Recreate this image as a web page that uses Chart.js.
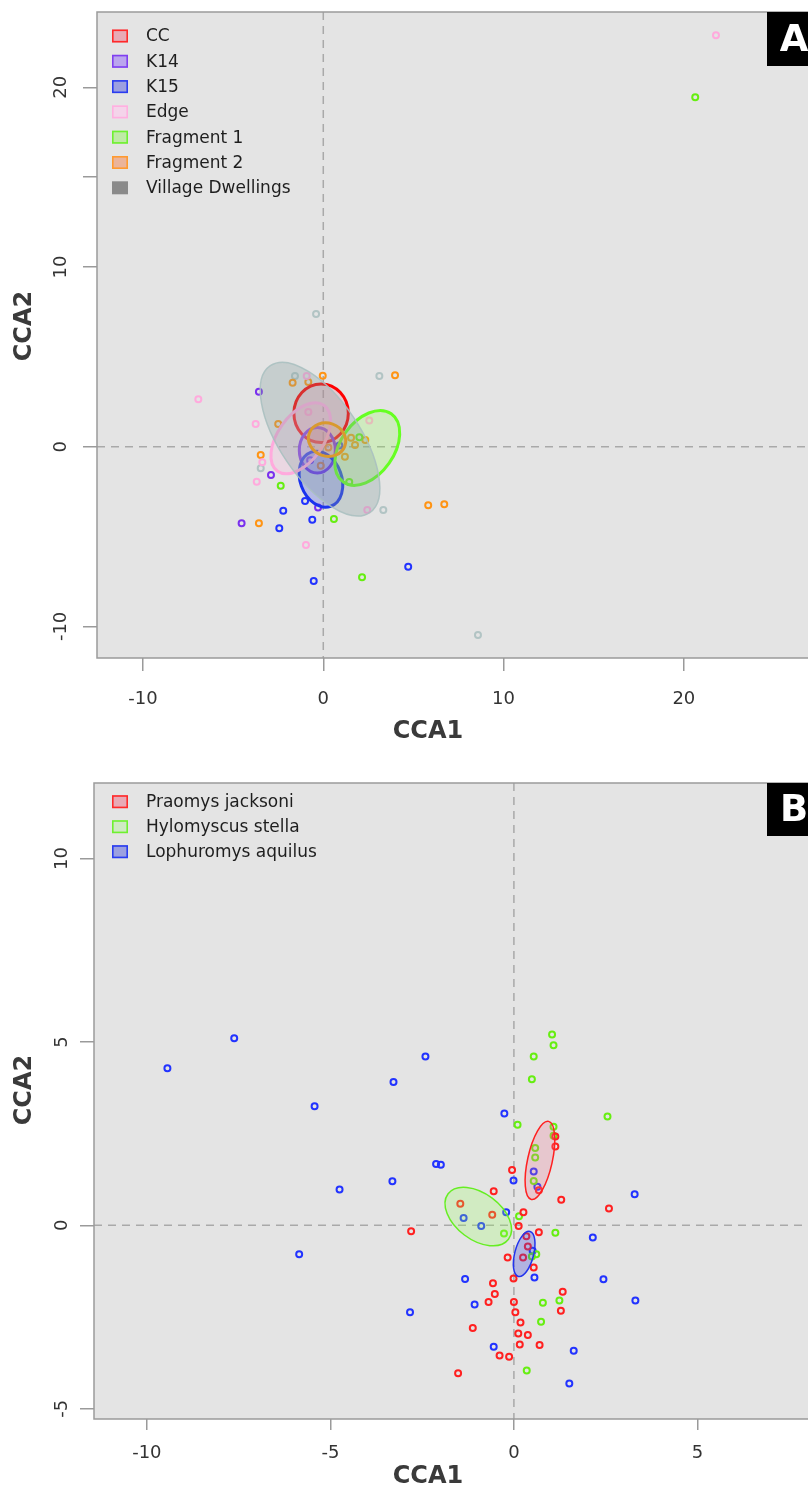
<!DOCTYPE html>
<html><head><meta charset="utf-8">
<script src="https://cdn.jsdelivr.net/npm/chart.js@4"></script>
<style>
html,body{margin:0;padding:0;background:#fff;overflow:hidden;width:808px;height:1490px;position:relative;}
#wa{position:absolute;left:0;top:0;width:830px;height:760px;}
#wb{position:absolute;left:0;top:760px;width:830px;height:730px;}
canvas{display:block;}
</style></head><body>
<div id="wa"><canvas id="ca" width="830" height="760"></canvas></div>
<div id="wb"><canvas id="cb" width="830" height="730"></canvas></div>
<script>
// ---------- Panel A data ----------
const aLabels = ["CC","K14","K15","Edge","Fragment 1","Fragment 2","Village Dwellings"];
const aCCX = [];
const aCCY = [];
const aK14X = [-3.57,-2.90,-0.29,-4.53,-0.73];
const aK14Y = [3.06,-1.57,-3.39,-4.26,-0.75];
const aK15X = [-1.01,-2.22,-0.61,-2.44,4.71,-0.53,0.89];
const aK15Y = [-3.02,-3.56,-4.06,-4.54,-6.68,-7.47,0.06];
const aEdgeX = [-6.93,-0.92,-3.75,2.55,-3.69,-3.38,2.44,-0.96,21.78,-0.83];
const aEdgeY = [2.64,3.93,1.26,1.45,-1.95,-0.87,-3.52,-5.47,22.89,1.93];
const aFrag1X = [-2.36,1.44,0.59,2.00,2.15,20.63];
const aFrag1Y = [-2.17,-1.96,-4.02,0.52,-7.27,19.44];
const aFrag2X = [-1.70,-0.83,-0.03,3.98,-2.50,-3.47,1.54,1.76,2.33,0.28,1.20,-0.14,-3.57,5.82,6.71];
const aFrag2Y = [3.56,3.60,3.95,3.97,1.26,-0.46,0.50,0.09,0.37,-0.05,-0.56,-1.06,-4.26,-3.26,-3.21];
const aVillX = [-0.40,-1.57,3.11,-3.47,3.33,8.58];
const aVillY = [7.38,3.93,3.93,-1.20,-3.52,-10.48];
// ellipses: centre x, centre y, semi-axis a, semi-axis b, angle (deg)
const aEllCX = [-0.12,-0.33,-0.13,-1.25,2.44,0.21,-0.18];
const aEllCY = [1.86,-0.20,-1.81,0.47,-0.07,0.39,0.42];
const aEllA  = [1.51,1.00,1.60,2.24,2.32,1.05,4.93];
const aEllB  = [1.63,1.27,1.15,1.27,1.48,0.92,2.22];
const aEllAng= [0,0,-70,55,55,-20,-56];
const aXTicks = [-10,0,10,20];
const aXTickLabels = ["-10","0","10","20"];
const aYTicks = [-10,0,10,15,20];
const aYTickLabels = ["-10","0","10","","20"];

// ---------- Panel B data ----------
const bLabels = ["Praomys jacksoni","Hylomyscus stella","Lophuromys aquilus"];
const bPraX = [1.13,1.13,-0.05,-0.55,0.68,1.29,2.59,-1.46,-0.59,0.26,0.13,0.68,-2.80,0.34,0.38,-0.17,0.25,0.54,-0.01,-0.57,-0.52,1.33,-0.69,0.00,0.04,1.28,0.18,-1.12,0.12,0.38,0.16,0.70,-0.39,-0.13,-1.52];
const bPraY = [2.42,2.15,1.51,0.93,0.96,0.70,0.46,0.59,0.29,0.36,-0.02,-0.19,-0.16,-0.30,-0.58,-0.88,-0.88,-1.15,-1.45,-1.58,-1.87,-1.81,-2.09,-2.09,-2.37,-2.33,-2.65,-2.80,-2.95,-2.99,-3.25,-3.26,-3.55,-3.58,-4.03];
const bHylX = [1.04,1.08,0.54,0.49,2.55,0.10,1.08,1.08,0.58,0.58,0.54,0.14,-0.27,1.13,0.61,0.49,0.79,1.24,0.74,0.35];
const bHylY = [5.20,4.91,4.60,3.98,2.97,2.74,2.69,2.44,2.11,1.85,1.21,0.25,-0.22,-0.20,-0.79,-0.85,-2.11,-2.05,-2.63,-3.96];
const bLopX = [-9.44,-7.62,-2.41,-3.28,-5.43,-0.26,-2.12,-1.99,-3.31,-4.75,0.54,-0.01,0.64,3.29,-0.21,-1.37,-0.89,2.15,-5.85,0.51,0.56,-1.33,2.44,-1.07,-2.83,3.31,-0.55,1.63,1.51];
const bLopY = [4.28,5.10,4.60,3.91,3.25,3.05,1.67,1.65,1.20,0.98,1.47,1.22,1.05,0.85,0.36,0.20,-0.02,-0.33,-0.79,-0.69,-1.42,-1.46,-1.47,-2.16,-2.37,-2.05,-3.31,-3.42,-4.31];
const bEllCX = [0.71,-0.97,0.28];
const bEllCY = [1.77,0.24,-0.78];
const bEllA  = [1.09,1.03,0.634];
const bEllB  = [0.336,0.63,0.257];
const bEllAng= [77.5,-37,75.5];
const bXTicks = [-10,-5,0,5];
const bXTickLabels = ["-10","-5","0","5"];
const bYTicks = [-5,0,5,10];
const bYTickLabels = ["-5","0","5","10"];

const FONT = "'DejaVu Sans', Verdana, sans-serif";

function makePanel(canvasId, cfg){
  const datasets = cfg.series.map(s => ({
    label: s.label,
    data: s.x.map((v,i)=>({x:v, y:s.y[i]})),
    pointStyle:'circle', pointRadius:3, pointHoverRadius:3,
    pointBorderWidth:2, pointHoverBorderWidth:2,
    borderColor:s.color, backgroundColor:'rgba(0,0,0,0)', showLine:false
  }));
  const plugin = {
    id:'panel_'+canvasId,
    beforeDatasetsDraw(chart){
      const {ctx, chartArea:a, scales:{x,y}} = chart;
      ctx.save();
      ctx.fillStyle = '#e4e4e4';
      ctx.fillRect(a.left, a.top, a.right-a.left, a.bottom-a.top);
      ctx.strokeStyle = '#a9a9a9'; ctx.lineWidth = 1.5; ctx.setLineDash([8,6]);
      const x0 = x.getPixelForValue(0), y0 = y.getPixelForValue(0);
      ctx.beginPath();
      ctx.moveTo(x0, a.top); ctx.lineTo(x0, a.bottom);
      ctx.moveTo(a.left, y0); ctx.lineTo(a.right, y0);
      ctx.stroke();
      ctx.restore();
    },
    afterDatasetsDraw(chart){
      const {ctx, chartArea:a, scales:{x,y}} = chart;
      // ellipses
      cfg.ell.cx.forEach((cxv,i)=>{
        const cx = x.getPixelForValue(cxv), cy = y.getPixelForValue(cfg.ell.cy[i]);
        const sx = x.getPixelForValue(cxv+1)-cx, sy = y.getPixelForValue(cfg.ell.cy[i]+1)-cy;
        ctx.save();
        ctx.beginPath();
        ctx.translate(cx, cy); ctx.scale(sx, sy); ctx.rotate(cfg.ell.ang[i]*Math.PI/180);
        ctx.ellipse(0,0,cfg.ell.a[i],cfg.ell.b[i],0,0,Math.PI*2);
        ctx.restore();
        ctx.save();
        ctx.fillStyle = cfg.ellStyle[i].fill; ctx.fill();
        ctx.strokeStyle = cfg.ellStyle[i].stroke; ctx.lineWidth = cfg.ellStyle[i].lw; ctx.stroke();
        ctx.restore();
      });
      ctx.save();
      // frame
      ctx.strokeStyle = '#9a9a9a'; ctx.lineWidth = 1.5;
      ctx.strokeRect(a.left, a.top, a.right-a.left, a.bottom-a.top);
      // legend
      ctx.font = '17px '+FONT; ctx.textAlign='left'; ctx.textBaseline='middle';
      cfg.series.forEach((s,i)=>{
        const yy = a.top + cfg.legendTop + i*cfg.legendStep;
        ctx.fillStyle = s.legendFill; ctx.fillRect(112, yy-6.5, 16, 13);
        if (s.legendStroke){ ctx.strokeStyle = s.legendStroke; ctx.lineWidth = 1.6; ctx.strokeRect(112.8, yy-5.7, 14.4, 11.4); }
        ctx.fillStyle = '#1e1e1e'; ctx.fillText(s.label, 146, yy+1);
      });
      // corner label
      ctx.fillStyle = '#000';
      ctx.fillRect(767, a.top, a.right-767, cfg.cornerH);
      ctx.fillStyle = '#fff'; ctx.font = 'bold 37px '+FONT; ctx.textAlign='center';
      ctx.fillText(cfg.corner, 794, a.top + cfg.cornerH/2 + 2);
      // y tick labels (rotated)
      ctx.font = '18px '+FONT; ctx.fillStyle = '#333';
      cfg.yTicks.forEach((v,i)=>{
        const lab = cfg.yTickLabels[i]; if(!lab) return;
        const py = y.getPixelForValue(v);
        ctx.save(); ctx.translate(cfg.yLabelX, py); ctx.rotate(-Math.PI/2); ctx.fillText(lab,0,0); ctx.restore();
      });
      // axis titles
      ctx.font = 'bold 24px '+FONT; ctx.fillStyle = '#3a3a3a';
      ctx.fillText('CCA1', 428, cfg.xTitleY);
      ctx.save(); ctx.translate(25, cfg.yTitleY); ctx.rotate(-Math.PI/2); ctx.fillText('CCA2',0,0); ctx.restore();
      ctx.restore();
    }
  };
  return new Chart(document.getElementById(canvasId), {
    type:'scatter',
    data:{datasets},
    options:{
      responsive:false, animation:false, events:[],
      layout:{padding:{left:0, top:cfg.padTop, right:10, bottom:0}},
      plugins:{legend:{display:false}, tooltip:{enabled:false}},
      scales:{
        x:{type:'linear', min:cfg.xMin, max:cfg.xMax,
          afterBuildTicks:s=>{ s.ticks = cfg.xTicks.map(v=>({value:v})); },
          afterFit:s=>{ s.height = cfg.xAxisH; },
          grid:{display:true, drawOnChartArea:false, drawTicks:true, tickLength:cfg.tickLen, color:'#9a9a9a', lineWidth:1.5},
          border:{display:false},
          ticks:{font:{family:FONT, size:18}, color:'#333', padding:cfg.xPad, maxRotation:0, minRotation:0, autoSkip:false,
            callback:(v,i)=>cfg.xTickLabels[i]}
        },
        y:{type:'linear', min:cfg.yMin, max:cfg.yMax,
          afterBuildTicks:s=>{ s.ticks = cfg.yTicks.map(v=>({value:v})); },
          afterFit:s=>{ s.width = cfg.yAxisW; },
          grid:{display:true, drawOnChartArea:false, drawTicks:true, tickLength:14, color:'#9a9a9a', lineWidth:1.5},
          border:{display:false},
          ticks:{display:false}
        }
      }
    },
    plugins:[plugin]
  });
}

makePanel('ca', {
  series:[
    {label:aLabels[0], x:aCCX, y:aCCY, color:'#ff1a1a', legendFill:'#e8aab6', legendStroke:'#ff2a2a'},
    {label:aLabels[1], x:aK14X, y:aK14Y, color:'#7a30ee', legendFill:'#bba6ee', legendStroke:'#8040f0'},
    {label:aLabels[2], x:aK15X, y:aK15Y, color:'#2233ff', legendFill:'#9ca0e0', legendStroke:'#2a3cf0'},
    {label:aLabels[3], x:aEdgeX, y:aEdgeY, color:'#ffaadd', legendFill:'#f4d4ea', legendStroke:'#ffb0e0'},
    {label:aLabels[4], x:aFrag1X, y:aFrag1Y, color:'#66ee11', legendFill:'#bfeaa6', legendStroke:'#6ef030'},
    {label:aLabels[5], x:aFrag2X, y:aFrag2Y, color:'#ff9414', legendFill:'#ebb49a', legendStroke:'#ff9a30'},
    {label:aLabels[6], x:aVillX, y:aVillY, color:'#b2c4c4', legendFill:'#8a8a8a', legendStroke:null}
  ],
  ell:{cx:aEllCX, cy:aEllCY, a:aEllA, b:aEllB, ang:aEllAng},
  ellStyle:[
    {fill:'rgba(240,110,140,0.25)', stroke:'#ff0000', lw:3},
    {fill:'rgba(140,90,240,0.22)', stroke:'#7a30ee', lw:3},
    {fill:'rgba(40,60,230,0.25)', stroke:'#1a33ee', lw:3},
    {fill:'rgba(255,170,220,0.22)', stroke:'#ffaadd', lw:3},
    {fill:'rgba(130,255,60,0.22)', stroke:'#66ff22', lw:3},
    {fill:'rgba(255,160,60,0.22)', stroke:'#ff9900', lw:3},
    {fill:'rgba(130,155,155,0.30)', stroke:'rgba(170,192,192,0.9)', lw:1.5}
  ],
  xMin:-12.55, xMax:27.55, yMin:-11.76, yMax:24.19,
  xTicks:aXTicks, xTickLabels:aXTickLabels, yTicks:aYTicks, yTickLabels:aYTickLabels,
  padTop:12, xAxisH:102, yAxisW:97, tickLen:13, xPad:18,
  legendTop:24, legendStep:25.3, corner:'A', cornerH:54,
  yLabelX:61, xTitleY:732, yTitleY:326
});

makePanel('cb', {
  series:[
    {label:bLabels[0], x:bPraX, y:bPraY, color:'#ff2020', legendFill:'#e8aab6', legendStroke:'#ff2a2a'},
    {label:bLabels[1], x:bHylX, y:bHylY, color:'#66ee11', legendFill:'#cfeac4', legendStroke:'#6ef030'},
    {label:bLabels[2], x:bLopX, y:bLopY, color:'#2233ff', legendFill:'#9ca0e0', legendStroke:'#2a3cf0'}
  ],
  ell:{cx:bEllCX, cy:bEllCY, a:bEllA, b:bEllB, ang:bEllAng},
  ellStyle:[
    {fill:'rgba(240,110,140,0.25)', stroke:'#ff2020', lw:1.5},
    {fill:'rgba(150,255,90,0.25)', stroke:'#66ee22', lw:1.5},
    {fill:'rgba(60,70,220,0.30)', stroke:'#2233ee', lw:1.5}
  ],
  xMin:-11.44, xMax:8.34, yMin:-5.28, yMax:12.06,
  xTicks:bXTicks, xTickLabels:bXTickLabels, yTicks:bYTicks, yTickLabels:bYTickLabels,
  padTop:23, xAxisH:71, yAxisW:94, tickLen:11, xPad:13,
  legendTop:18.7, legendStep:25, corner:'B', cornerH:53,
  yLabelX:62, xTitleY:717, yTitleY:330
});
</script>
</body></html>
